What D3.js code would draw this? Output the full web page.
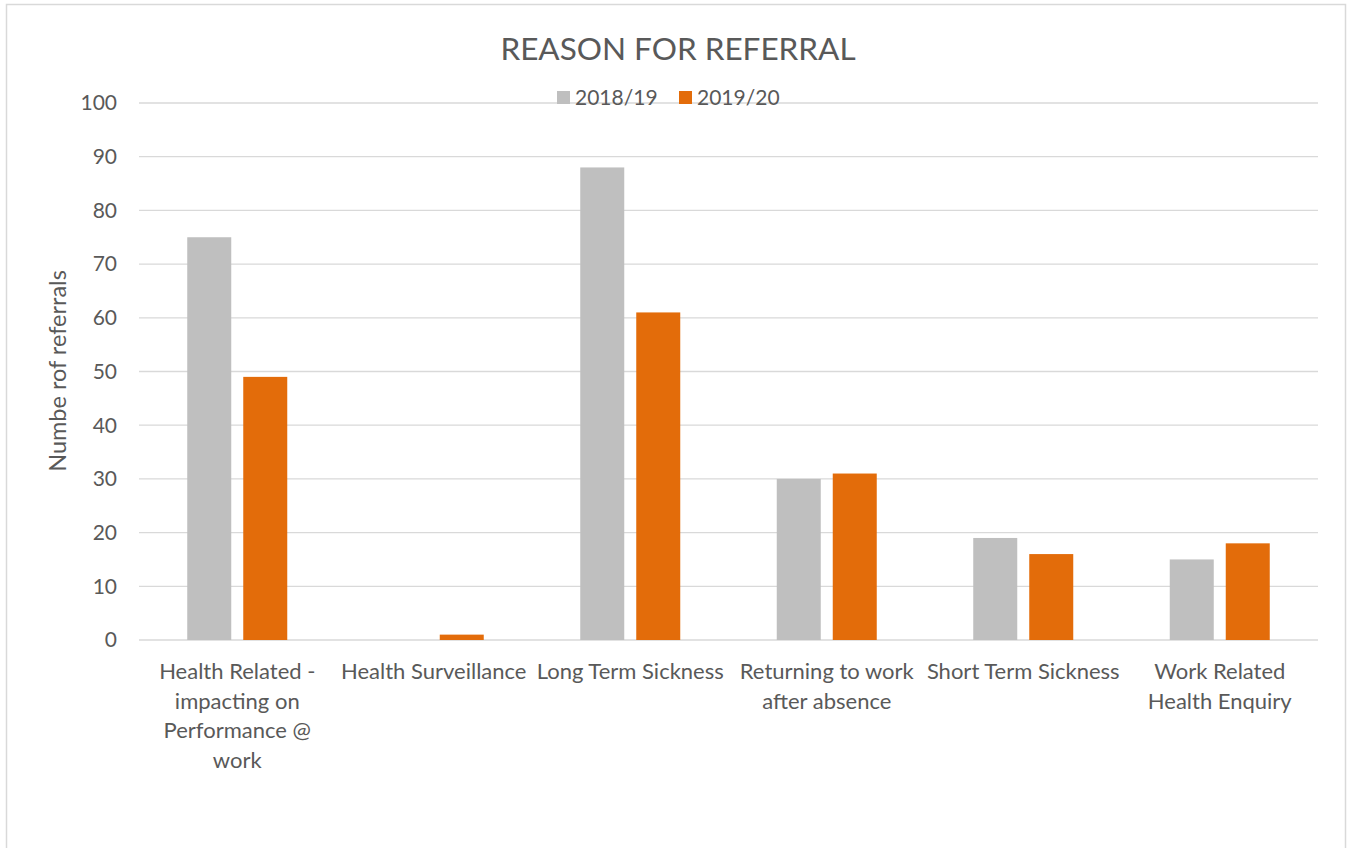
<!DOCTYPE html>
<html>
<head>
<meta charset="utf-8">
<script src="https://cdn.jsdelivr.net/npm/d3@7"></script>
<style>
  body { margin: 0; background: #fff; }
  text { font-family: Lato, "Open Sans", sans-serif; fill: #595959; }
</style>
</head>
<body>
<div class="chart"></div>
<script>
// categorieën en waarden
var categories = [
  ["Health Related -", "impacting on", "Performance @", "work"],
  ["Health Surveillance"],
  ["Long Term Sickness"],
  ["Returning to work", "after absence"],
  ["Short Term Sickness"],
  ["Work Related", "Health Enquiry"]
];
var seriesNames = ["2018/19", "2019/20"];
var values1819 = [75, 0, 88, 30, 19, 15];
var values1920 = [49, 1, 61, 31, 16, 18];
var yTicks = [0, 10, 20, 30, 40, 50, 60, 70, 80, 90, 100];
var seriesColors = ["#bfbfbf", "#e36c0a"];

var width = 1352, height = 848;
var svg = d3.select(".chart").append("svg")
  .attr("width", width)
  .attr("height", height);

// rand van de grafiek
svg.append("rect")
  .attr("x", 6.5).attr("y", 4.5)
  .attr("width", 1339).attr("height", 860)
  .attr("fill", "none")
  .attr("stroke", "#d9d9d9")
  .attr("stroke-width", 1.5);

var plot = { left: 139, right: 1318, top: 103, bottom: 640 };

var x = d3.scaleBand()
  .domain(d3.range(categories.length))
  .range([plot.left, plot.right])
  .paddingInner(0)
  .paddingOuter(0);

var y = d3.scaleLinear()
  .domain([0, 100])
  .range([plot.bottom, plot.top]);

// rasterlijnen
svg.append("g")
  .selectAll("line")
  .data(yTicks)
  .join("line")
  .attr("x1", plot.left).attr("x2", plot.right)
  .attr("y1", d => y(d)).attr("y2", d => y(d))
  .attr("stroke", "#d9d9d9")
  .attr("stroke-width", 1.3);

// y-as labels
svg.append("g")
  .selectAll("text")
  .data(yTicks)
  .join("text")
  .attr("x", 117)
  .attr("y", d => y(d))
  .attr("dy", "0.35em")
  .attr("text-anchor", "end")
  .style("font-size", "21px")
  .text(d => d);

// balken
var barW = 44, gap = 12;
var series = [values1819, values1920];
series.forEach(function (vals, s) {
  svg.append("g")
    .selectAll("rect")
    .data(vals)
    .join("rect")
    .attr("x", (d, i) => x(i) + x.bandwidth() / 2 - barW - gap / 2 + s * (barW + gap))
    .attr("y", d => y(d))
    .attr("width", barW)
    .attr("height", d => y(0) - y(d))
    .attr("fill", seriesColors[s]);
});

// x-as labels
var xl = svg.append("g")
  .selectAll("text")
  .data(categories)
  .join("text")
  .attr("text-anchor", "middle")
  .attr("transform", (d, i) => "translate(" + (x(i) + x.bandwidth() / 2) + ",679)")
  .style("font-size", "22px");
xl.selectAll("tspan")
  .data(d => d)
  .join("tspan")
  .attr("x", 0)
  .attr("y", (d, i) => i * 29.5)
  .text(d => d);

// titel
svg.append("text")
  .attr("x", 678).attr("y", 60)
  .attr("text-anchor", "middle")
  .style("font-size", "31.5px")
  .text("REASON FOR REFERRAL");

// legenda
var legend = svg.append("g");
var legendX = [557, 679];
seriesNames.forEach(function (name, i) {
  legend.append("rect")
    .attr("x", legendX[i]).attr("y", 91)
    .attr("width", 13).attr("height", 13)
    .attr("fill", seriesColors[i]);
  legend.append("text")
    .attr("x", legendX[i] + 18).attr("y", 98)
    .attr("dy", "0.35em")
    .style("font-size", "21px")
    .text(name);
});

// y-as titel
svg.append("text")
  .attr("transform", "translate(66,371) rotate(-90)")
  .attr("text-anchor", "middle")
  .style("font-size", "23.5px")
  .text("Numbe rof referrals");
</script>
</body>
</html>
